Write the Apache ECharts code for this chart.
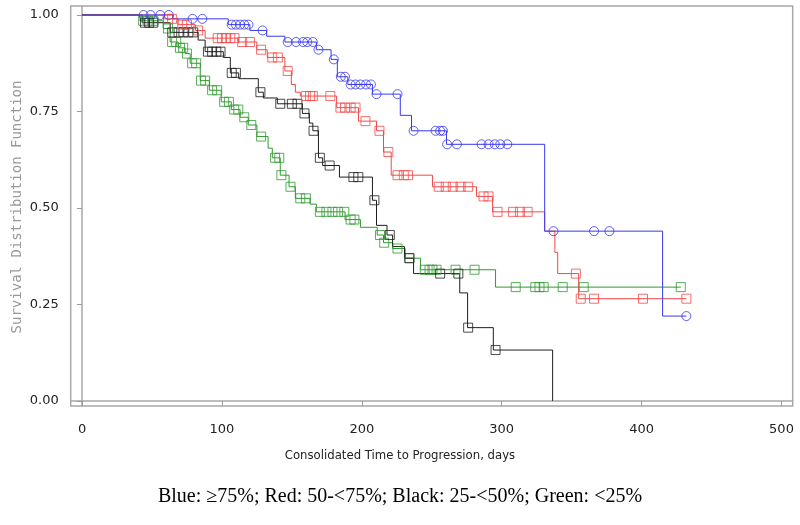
<!DOCTYPE html>
<html><head><meta charset="utf-8">
<script src="https://cdn.jsdelivr.net/npm/echarts@6/dist/echarts.min.js"></script>
<style>html,body{margin:0;padding:0;background:#fff}#c{width:800px;height:525px}</style>
</head><body><div id="c"></div>
<script>
// axis ticks
const xTicks = [0, 100, 200, 300, 400, 500];
const yTicks = [0, 0.25, 0.5, 0.75, 1];

// Blue: >=75%
const blueTimes = [65, 104.5, 120, 132, 145, 167.5, 178, 182.5, 190, 207.6, 227.5, 235.5, 260.5, 330.7, 415];
const blueSurv  = [0.99, 0.975, 0.96, 0.945, 0.93, 0.91, 0.885, 0.84, 0.82, 0.795, 0.74, 0.70, 0.665, 0.44, 0.22];
const blueCensor = [44, 49, 56, 62, 79, 86, 107, 110, 113, 116, 119, 129, 147, 153, 158, 161, 165, 169, 180, 185, 188, 192, 195.5, 199, 203, 206.5, 210.5, 225.5, 237, 252.7, 256, 258, 261, 268, 285.6, 290.6, 295, 299, 304, 337, 366, 377, 432];
const blueEnd = 432;

// Red: 50-<75%
const redTimes = [58, 68.7, 81, 88, 111.7, 125, 132.4, 145, 149.6, 152.5, 156, 182, 197.6, 210.5, 215.5, 221, 250.5, 282, 293.5, 330.7, 338, 340, 355];
const redSurv  = [0.99, 0.975, 0.96, 0.94, 0.93, 0.91, 0.89, 0.855, 0.82, 0.80, 0.79, 0.76, 0.725, 0.70, 0.645, 0.585, 0.555, 0.53, 0.49, 0.44, 0.385, 0.33, 0.265];
const redCensor = [61.5, 64.4, 71.6, 75, 83, 97, 100, 103, 106, 109, 114.5, 120, 128, 136, 140, 147, 160, 163, 165, 177.5, 184.7, 188, 192, 195.5, 202.6, 212.6, 219, 225.5, 230, 233, 255, 260, 265, 270.6, 276, 287, 290.6, 297, 308, 313, 318.5, 353, 356.5, 366, 401, 432];
const redEnd = 432;

// Black: 25-<50%
const blackTimes = [43, 63, 83, 88, 101, 106, 112, 126, 129.6, 139.6, 157.5, 162.5, 165, 169, 172, 184, 207.6, 210.5, 218, 222, 230.5, 237, 270, 275.6, 294, 336.4];
const blackSurv  = [0.98, 0.955, 0.935, 0.905, 0.89, 0.85, 0.835, 0.80, 0.785, 0.77, 0.745, 0.72, 0.70, 0.63, 0.61, 0.58, 0.52, 0.455, 0.43, 0.40, 0.37, 0.33, 0.28, 0.19, 0.132, 0];
const blackCensor = [45, 48, 51, 64.5, 69, 72.5, 76, 79.5, 90, 93, 96, 99, 107, 110, 127.5, 141.7, 150, 154, 159, 165.5, 170, 177, 194, 197.5, 209, 220, 234, 256, 269, 276, 295.6];
const blackEnd = 336.4;

// Green: <25%
const greenTimes = [41.5, 58, 63, 68.7, 73.7, 77.3, 84.5, 91, 99.5, 106.7, 113, 118.8, 125, 133, 136, 141.7, 148, 152.5, 163, 167.5, 188, 199, 211, 215.5, 222, 231, 242, 295.6];
const greenSurv  = [0.985, 0.965, 0.93, 0.915, 0.90, 0.875, 0.83, 0.805, 0.775, 0.755, 0.735, 0.715, 0.685, 0.655, 0.63, 0.585, 0.555, 0.525, 0.51, 0.49, 0.47, 0.45, 0.43, 0.41, 0.395, 0.37, 0.34, 0.295];
const greenCensor = [43.7, 47, 51, 61.5, 64.4, 67.3, 70, 72.3, 75, 78.7, 81.6, 85, 88, 93, 96.6, 101.6, 105, 108.8, 111.7, 116, 121, 128, 138, 141, 142.5, 149, 156, 160, 170, 174.7, 179, 183, 187.5, 192, 194.7, 213, 216, 225.5, 234, 245, 248.4, 250.5, 253.4, 267, 280.6, 310, 324, 327, 330, 343.6, 358.6, 428];
const greenEnd = 428;

const groups = [
  {name: 'Green', times: greenTimes, surv: greenSurv, censor: greenCensor, end: greenEnd, color: '#2f9a2f', symbol: 'rect'},
  {name: 'Black', times: blackTimes, surv: blackSurv, censor: blackCensor, end: blackEnd, color: '#1e1e1e', symbol: 'rect'},
  {name: 'Red', times: redTimes, surv: redSurv, censor: redCensor, end: redEnd, color: '#f24848', symbol: 'rect'},
  {name: 'Blue', times: blueTimes, surv: blueSurv, censor: blueCensor, end: blueEnd, color: '#3838f0', symbol: 'circle'}
];

function survAt(g, t) {
  let s = 1;
  for (let i = 0; i < g.times.length; i++) if (g.times[i] <= t) s = g.surv[i];
  return s;
}

const series = [];
groups.forEach(g => {
  const line = [[0, 1]];
  g.times.forEach((t, i) => line.push([t, g.surv[i]]));
  const lastT = g.times[g.times.length - 1];
  if (g.end > lastT) line.push([g.end, g.surv[g.surv.length - 1]]);
  series.push({
    name: g.name, type: 'line', step: 'end', data: line, showSymbol: false,
    lineStyle: {color: g.color, width: 1}, silent: true, animation: false, z: 3
  });
  series.push({
    name: g.name + ' censored', type: 'scatter', data: g.censor.map(t => [t, survAt(g, t)]),
    symbol: g.symbol, symbolSize: 9,
    itemStyle: {color: 'rgba(255,255,255,0)', borderColor: g.color, borderWidth: 1},
    silent: true, animation: false, z: 4
  });
});

const frameColor = '#a8a8a8';
const chart = echarts.init(document.getElementById('c'), null, {renderer: 'canvas'});
chart.setOption({
  animation: false,
  backgroundColor: '#fff',
  grid: {left: 70.7, right: 7.3, top: 6, bottom: 119, containLabel: false,
         show: true, borderColor: frameColor, borderWidth: 1.5, backgroundColor: 'transparent'},
  xAxis: {
    type: 'value', min: -8.1, max: 508,
    axisLine: {show: true, lineStyle: {color: frameColor, width: 1.5}},
    axisTick: {show: true, length: 5, customValues: xTicks, lineStyle: {color: '#999', width: 1}},
    axisLabel: {customValues: xTicks, margin: 17, fontFamily: 'DejaVu Sans', fontSize: 13, color: '#222'},
    splitLine: {show: false}
  },
  yAxis: {
    type: 'value', min: -0.013, max: 1.0233,
    axisLine: {show: true, lineStyle: {color: frameColor, width: 1.5}},
    axisTick: {show: true, length: 5, customValues: yTicks, lineStyle: {color: '#999', width: 1}},
    axisLabel: {customValues: yTicks, margin: 12, fontFamily: 'DejaVu Sans', fontSize: 13, color: '#222', formatter: v => v.toFixed(2)},
    splitLine: {show: false}
  },
  series: series,
  graphic: [
    {type: 'text', x: 400, y: 456, style: {text: 'Consolidated Time to Progression, days',
      font: '13px "Liberation Sans Narrow", "DejaVu Sans Condensed", "Liberation Sans"', fill: '#222', align: 'center', verticalAlign: 'middle'}},
    {type: 'text', x: 17, y: 207, rotation: Math.PI / 2, style: {text: 'Survival Distribution Function',
      font: '14px "DejaVu Sans Mono"', fill: '#999', align: 'center', verticalAlign: 'middle'}},
    {type: 'text', x: 400, y: 497, style: {text: 'Blue: \u226575%; Red: 50-<75%; Black: 25-<50%; Green: <25%',
      font: '20px "Liberation Serif"', fill: '#000', align: 'center', verticalAlign: 'middle'}}
  ]
});
</script></body></html>
